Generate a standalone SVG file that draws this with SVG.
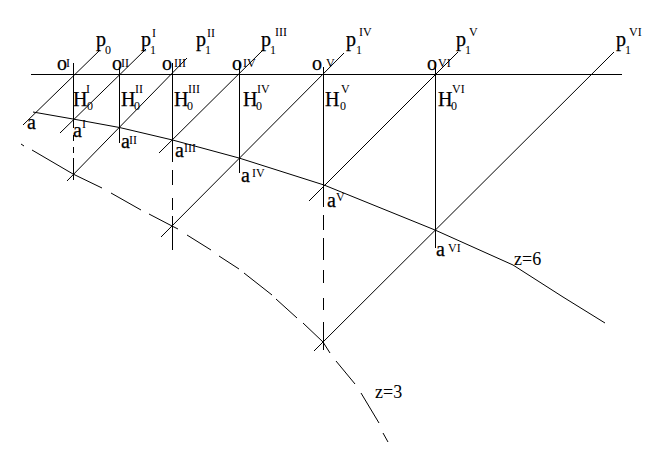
<svg xmlns="http://www.w3.org/2000/svg" width="652" height="452" viewBox="0 0 652 452">
<style>
.h{stroke:#000;stroke-width:1;fill:none;shape-rendering:crispEdges}
.l{stroke:#000;stroke-width:1;fill:none}
.c{stroke:#000;stroke-width:1;fill:none;stroke-linejoin:round}
text{font-family:"Liberation Serif","Times New Roman",serif;fill:#000}
.m{font-size:20px;stroke:#000;stroke-width:.25px}
.s{font-size:12px}
.d{font-size:12px}
.z{font-size:18px}
</style>
<rect width="652" height="452" fill="#fff"/>
<g id="lines">
<path class="h" d="M31 74.500H622"/>
<path class="h" d="M73.500 63V128M73.500 135V141M73.500 147V153M73.500 158V180"/>
<path class="h" d="M119.500 67V143"/>
<path class="h" d="M172.500 63V162M172.500 170V185M172.500 198V210M172.500 216V250"/>
<path class="h" d="M239.500 62V173"/>
<path class="h" d="M323.500 67V207M323.500 215V230M323.500 238V260M323.500 270V283M323.500 298V310M323.500 322V350"/>
<path class="h" d="M435.500 62V248"/>
<path class="l" d="M23 125L100 50"/>
<path class="l" d="M60 133L146 49"/>
<path class="l" d="M67 181L187 58"/>
<path class="l" d="M159 153L263 50"/>
<path class="l" d="M161 237L344 53"/>
<path class="l" d="M309 201L458 52"/>
<path class="l" d="M314 351L614 52"/>
</g>
<g id="curves">
<path class="c" d="M33 112L73 119L119.500 127.500L172.500 140L239 158L324 185L435 230L513 265L563 297L605 323"/>
<path class="c" d="M21 144L24 146M32 150L73 174L102 188M111 193L141 210M149 214L172 226L178 229M187 235L211 250M219 256L239 269M244 273L272 295M276 299L297 318M303 323L323 342L330 353M336 361L355 384M361 393L379 423M383 433L388 442"/>
</g>
<g id="labels" opacity=".999">
<text class="m" x="96" y="46">p</text><text class="d" x="105" y="54">0</text>
<text class="m" x="141" y="46">p</text><text class="d" x="150" y="54">1</text><text class="s" x="152" y="37">I</text>
<text class="m" x="196" y="46">p</text><text class="d" x="205" y="54">1</text><text class="s" x="207" y="37">II</text>
<text class="m" x="261" y="46">p</text><text class="d" x="270" y="54">1</text><text class="s" x="275" y="36">III</text>
<text class="m" x="346" y="46">p</text><text class="d" x="356" y="54">1</text><text class="s" x="359" y="36">IV</text>
<text class="m" x="456" y="46">p</text><text class="d" x="465" y="54">1</text><text class="s" x="469" y="36">V</text>
<text class="m" x="616" y="46">p</text><text class="d" x="625" y="54">1</text><text class="s" x="629" y="36">VI</text>

<text class="m" x="57" y="70">o</text><text class="s" x="66" y="67">I</text>
<text class="m" x="112" y="70">o</text><text class="s" x="121" y="67">II</text>
<text class="m" x="162" y="70">o</text><text class="s" x="174" y="67">III</text>
<text class="m" x="232" y="70">o</text><text class="s" x="243" y="67">IV</text>
<text class="m" x="312" y="70">o</text><text class="s" x="326" y="67">V</text>
<text class="m" x="427" y="70">o</text><text class="s" x="438" y="67">VI</text>

<text class="m" x="73" y="106">H</text><text class="d" x="87" y="110">0</text><text class="s" x="86" y="93">I</text>
<text class="m" x="121" y="106">H</text><text class="d" x="134" y="110">0</text><text class="s" x="135" y="93">II</text>
<text class="m" x="174" y="106">H</text><text class="d" x="187" y="110">0</text><text class="s" x="188" y="93">III</text>
<text class="m" x="243" y="106">H</text><text class="d" x="256" y="110">0</text><text class="s" x="257" y="93">IV</text>
<text class="m" x="325" y="106">H</text><text class="d" x="340" y="110">0</text><text class="s" x="341" y="93">V</text>
<text class="m" x="438" y="106">H</text><text class="d" x="451" y="110">0</text><text class="s" x="452" y="93">VI</text>

<text class="m" x="27" y="129">a</text>
<text class="m" x="73" y="137">a</text><text class="s" x="82" y="128">I</text>
<text class="m" x="121" y="148">a</text><text class="s" x="129" y="144">II</text>
<text class="m" x="175" y="157">a</text><text class="s" x="184" y="152">III</text>
<text class="m" x="241" y="182">a</text><text class="s" x="252" y="177">IV</text>
<text class="m" x="327" y="207">a</text><text class="s" x="336" y="201">V</text>
<text class="m" x="436" y="256">a</text><text class="s" x="448" y="252">VI</text>

<text class="z" x="514" y="265">z=6</text>
<text class="z" x="375" y="398">z=3</text>
</g>
</svg>
